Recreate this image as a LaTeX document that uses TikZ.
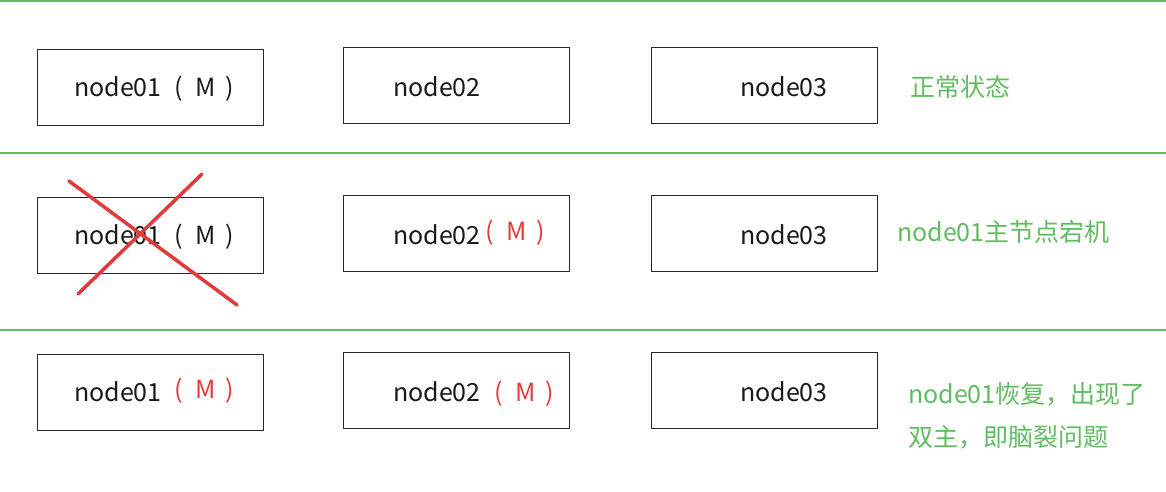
\documentclass[tikz,border=0pt]{standalone}
\usepackage{fontspec}
\setmainfont{Noto Sans CJK SC}
\definecolor{lgreen}{RGB}{96,188,96}
\definecolor{mred}{RGB}{226,58,58}
\definecolor{boxline}{RGB}{40,40,40}
\newcommand\parM{(\hspace{12pt}M\hspace{10pt})}
\begin{document}
\begin{tikzpicture}[x=1pt,y=-1pt,
  box/.style={draw=boxline, line width=1.3pt, minimum width=226pt, minimum height=76pt, anchor=north west, inner sep=0pt},
  lbl/.style={anchor=base west, inner sep=0pt, text=black!90, font=\fontsize{25}{30}\selectfont},
  note/.style={anchor=base west, inner sep=0pt, text=lgreen, font=\fontsize{25}{30}\selectfont},
  sep/.style={draw=lgreen, line width=1.2pt},
  cross/.style={draw=mred, line width=3.5pt, line cap=round}]
\useasboundingbox (0,0) rectangle (1166,492);
% separators
\draw[sep] (0,1) -- (1166,1);
\draw[sep] (0,153) -- (1166,153);
\draw[sep] (0,330) -- (1166,330);
% row 1
\node[box] (a1) at (36.5,49) {};
\node[box] (a2) at (342.5,47) {};
\node[box] (a3) at (651,47) {};
\node[lbl] (ta1) at (74,97) {node01\hspace{13pt}\parM};
\node[lbl] (ta2) at (393,97) {node02};
\node[lbl] (ta3) at (740,97) {node03};
\node[note] (na) at (910,97) {正常状态};
% row 2
\node[box] (b1) at (36.5,197) {};
\node[box] (b2) at (342.5,195) {};
\node[box] (b3) at (651,195) {};
\node[lbl] (tb1) at (74,244) {node01\hspace{13pt}\parM};
\node[lbl] (tb2) at (393,244) {node02\hspace{5pt}\raisebox{4pt}{\textcolor{mred}{\parM}}};
\node[lbl] (tb3) at (740,244) {node03};
\node[note] (nb) at (897,241) {node01主节点宕机};
\draw[cross] (69,181) -- (237,305);
\draw[cross] (202,174) -- (78,294);
% row 3
\node[box] (c1) at (36.5,354) {};
\node[box] (c2) at (342.5,352) {};
\node[box] (c3) at (651,352) {};
\node[lbl] (tc1) at (74,401) {node01\hspace{13pt}\raisebox{3pt}{\textcolor{mred}{\parM}}};
\node[lbl] (tc2) at (393,401) {node02\hspace{14pt}\textcolor{mred}{\parM}};
\node[lbl] (tc3) at (740,401) {node03};
\node[note] (nc1) at (908,403) {node01恢复，出现了};
\node[note] (nc2) at (908,446) {双主，即脑裂问题};
\end{tikzpicture}
\end{document}
